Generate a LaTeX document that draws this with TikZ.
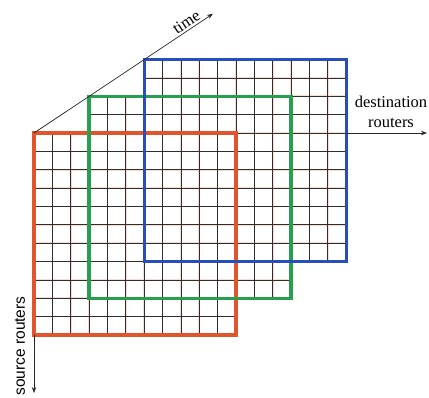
\documentclass[tikz,border=0pt]{standalone}
\usepackage{fontspec}
\setmainfont{Liberation Serif}
\newfontfamily\arialfont{Liberation Sans}
\usetikzlibrary{arrows.meta}
\definecolor{framered}{RGB}{226,84,44}
\definecolor{framegreen}{RGB}{38,160,78}
\definecolor{frameblue}{RGB}{40,78,190}
\definecolor{halo}{RGB}{252,218,206}
\tikzset{
  gridhalo/.style={draw=halo, line width=1.6pt},
  gridline/.style={draw=black!82, line width=0.65pt},
  frame/.style={line width=3.2pt, minimum width=202pt, minimum height=202pt, inner sep=0pt, outer sep=0pt},
  axis/.style={draw=black!85, line width=0.7pt, -{Stealth[length=6pt,width=4.5pt]}},
  lbl/.style={font=\fontsize{16.5}{20}\selectfont, inner sep=0pt},
}
\begin{document}
\begin{tikzpicture}[x=1pt,y=-1pt]
\useasboundingbox (0,0) rectangle (429,398);
\pgfmathsetmacro{\c}{202/11}
% grids
\foreach \ox/\oy in {34/133, 89.09/96.27, 144.18/59.55} {
  \foreach \i in {1,...,10} {
    \draw[gridhalo] (\ox+\i*\c, \oy) -- (\ox+\i*\c, \oy+202);
    \draw[gridhalo] (\ox, \oy+\i*\c) -- (\ox+202, \oy+\i*\c);
  }
}
\foreach \ox/\oy in {34/133, 89.09/96.27, 144.18/59.55} {
  \foreach \i in {1,...,10} {
    \draw[gridline] (\ox+\i*\c, \oy) -- (\ox+\i*\c, \oy+202);
    \draw[gridline] (\ox, \oy+\i*\c) -- (\ox+202, \oy+\i*\c);
  }
}
% frames
\node[frame, draw=framered] (red) at (135,234) {};
\node[frame, draw=framegreen] (green) at (190.09,197.27) {};
\node[frame, draw=frameblue] (blue) at (245.18,160.55) {};
% axes
\coordinate (timeend) at (213,13.7);
\coordinate (destend) at (427,133);
\coordinate (srcend) at (34,393);
\draw[axis] (red.north west) -- (timeend)
  node[lbl, sloped, above, pos=0.875, inner sep=2pt] (timelbl) {time};
\draw[axis] (blue.east |- red.north) -- (destend);
\node[lbl, align=center, anchor=south] (destlbl) at (391,128) {destination\\routers};
\draw[axis] (red.south west) -- (srcend);
\node[font=\arialfont\fontsize{15.5}{18}\selectfont, inner sep=0pt, rotate=90] (srclbl) at (20,346) {source routers};
\end{tikzpicture}
\end{document}
